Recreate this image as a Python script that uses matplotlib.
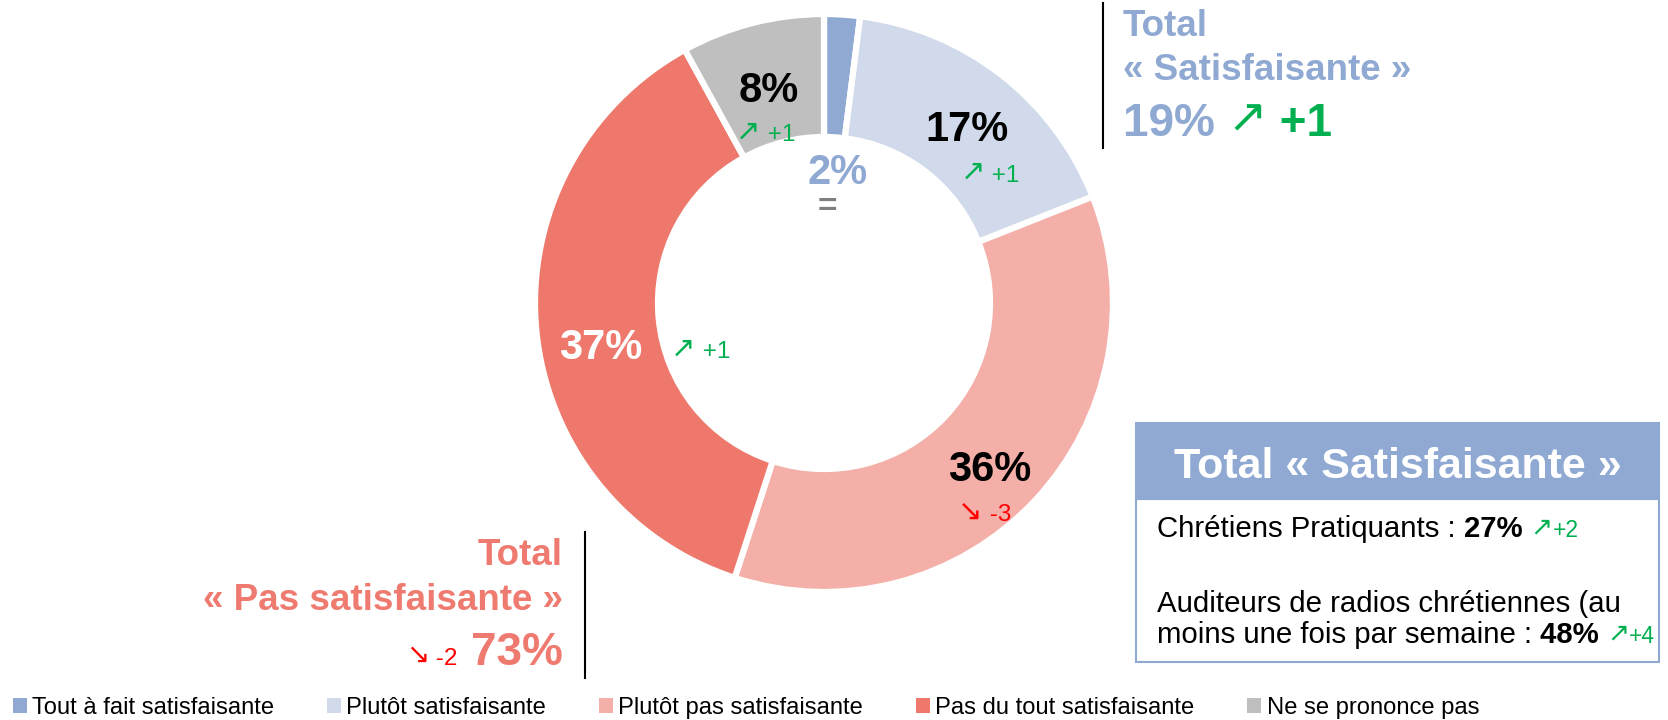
import matplotlib
matplotlib.use("Agg")
import matplotlib.pyplot as plt
from matplotlib.patches import Patch, Rectangle
import numpy as np

plt.rcParams['font.family'] = ['Liberation Sans', 'DejaVu Sans']

# ---------------- data ----------------
categories = ['Tout à fait satisfaisante', 'Plutôt satisfaisante',
              'Plutôt pas satisfaisante', 'Pas du tout satisfaisante',
              'Ne se prononce pas']
values = [2, 17, 36, 37, 8]
changes = ['=', '+1', '-3', '+1', '+1']

total_sat_label = 'Total\n« Satisfaisante »'
total_sat_change = '+1'
total_pas_label = 'Total\n« Pas satisfaisante »'
total_pas_change = '-2'

box_title = 'Total « Satisfaisante »'
box_groups = ['Chrétiens Pratiquants : ',
              'Auditeurs de radios chrétiennes (au\nmoins une fois par semaine : ']
box_values = [27, 48]
box_changes = ['+2', '+4']

# ---------------- style ----------------
colors = ['#8FA9D3', '#D0DAEB', '#F4AFA8', '#EE786B', '#BFBFBF']
label_colors = ['#8FA9D3', 'black', 'black', 'white', 'black']
GREEN = '#00B050'
RED = '#FF0000'
SALMON_TXT = '#EF7B70'
BLUE_TXT = '#8FA9D3'
ARROW_FONT = ['DejaVu Sans']

W, H = 1668, 720
fig = plt.figure(figsize=(W / 100, H / 100), dpi=100)
ax = fig.add_axes([0, 0, 1, 1])


def Y(y):
    return H - y


CX, CY, R, RIN = 824, 303, 289, 166

wedges, _ = ax.pie(values, colors=colors, startangle=90, counterclock=False,
                   center=(CX, Y(CY)), radius=R,
                   wedgeprops=dict(width=R - RIN, edgecolor='white', linewidth=4.5))
ax.set_xlim(0, W)
ax.set_ylim(0, H)
ax.set_aspect('equal')
ax.axis('off')

renderer = fig.canvas.get_renderer()


def chain(x, y, parts, ha='left'):
    """Draw text pieces on one baseline starting at x (px, y from top).
    Each part: (text, kwargs[, dy_px_up])."""
    arts = []
    cur = x
    for p in parts:
        txt, kw = p[0], p[1]
        dy = p[2] if len(p) > 2 else 0
        t = ax.text(cur, Y(y) + dy, txt, ha='left', va='baseline', **kw)
        bb = t.get_window_extent(renderer)
        cur = cur + bb.width
        arts.append(t)
    shift = 0
    if ha == 'right':
        shift = cur - x
    elif ha == 'center':
        shift = (cur - x) / 2
    for t in arts:
        px, py = t.get_position()
        t.set_position((px - shift, py))
    return arts


def arrow_for(ch):
    if ch.startswith('+'):
        return '↗', GREEN
    if ch.startswith('-'):
        return '↘', RED
    return '', '#7F7F7F'


# label radii (fraction of outer radius), shifts and change-label offsets (px)
label_r = [0.465, 0.785, 0.805, 0.79, 0.77]
label_shift = [(5, 4), (4, 6), (-4, 8), (4, 24), (0, 4)]
change_off = [(-10, 35), (23, 44), (-5, 43), (100, 2), (-3, 42)]

for i, w in enumerate(wedges):
    th = np.deg2rad((w.theta1 + w.theta2) / 2)
    px = CX + label_r[i] * R * np.cos(th) + label_shift[i][0]
    py = CY - label_r[i] * R * np.sin(th) + label_shift[i][1]
    ax.text(px, Y(py), f'{values[i]}%', ha='center', va='center',
            fontsize=30, fontweight='bold', color=label_colors[i])
    arr, col = arrow_for(changes[i])
    cx, cy = px + change_off[i][0], py + change_off[i][1]
    if arr:
        chain(cx, cy + 8, [(arr, dict(fontsize=21, color=col, family=ARROW_FONT), 2),
                           (' ' + changes[i], dict(fontsize=17.5, color=col))],
              ha='center')
    else:
        ax.text(cx, Y(cy), changes[i], ha='center', va='center', fontsize=24,
                color=col, fontweight='bold')

# ---------------- top-right total ----------------
total_sat = values[0] + values[1]
ax.plot([1103, 1103], [Y(3), Y(148)], color='black', lw=1.5)
l1, l2 = total_sat_label.split('\n')
ax.text(1123, Y(36), l1, ha='left', va='baseline', fontsize=26.5,
        fontweight='bold', color=BLUE_TXT)
ax.text(1123, Y(80), l2, ha='left', va='baseline', fontsize=26.5,
        fontweight='bold', color=BLUE_TXT)
arr, col = arrow_for(total_sat_change)
chain(1123, 136, [(f'{total_sat}% ', dict(fontsize=33, fontweight='bold', color=BLUE_TXT)),
                  (arr, dict(fontsize=34, color=col, family=ARROW_FONT), 4),
                  (' ' + total_sat_change, dict(fontsize=33, fontweight='bold', color=col))])

# ---------------- bottom-left total ----------------
total_pas = values[2] + values[3]
ax.plot([585, 585], [Y(532), Y(678)], color='black', lw=1.5)
l1, l2 = total_pas_label.split('\n')
ax.text(563, Y(565), l1, ha='right', va='baseline', fontsize=26.5,
        fontweight='bold', color=SALMON_TXT)
ax.text(563, Y(610), l2, ha='right', va='baseline', fontsize=26.5,
        fontweight='bold', color=SALMON_TXT)
arr, col = arrow_for(total_pas_change)
chain(563, 665, [(arr, dict(fontsize=20, color=col, family=ARROW_FONT), 2),
                 (f' {total_pas_change}  ', dict(fontsize=17.5, color=col)),
                 (f'{total_pas}%', dict(fontsize=33, fontweight='bold', color=SALMON_TXT))],
      ha='right')

# ---------------- box ----------------
BX0, BX1, BY0, BY1, BY2 = 1136, 1659, 423, 499, 662
ax.add_patch(Rectangle((BX0, Y(BY2)), BX1 - BX0, BY2 - BY1, facecolor='white',
                       edgecolor=BLUE_TXT, lw=1.5))
ax.add_patch(Rectangle((BX0, Y(BY1)), BX1 - BX0, BY1 - BY0, facecolor=BLUE_TXT,
                       edgecolor=BLUE_TXT, lw=1.5))
ax.text((BX0 + BX1) / 2, Y(478), box_title, ha='center', va='baseline',
        fontsize=31, fontweight='bold', color='white')

base_lines = [[537], [612, 643]]
for g, v, ch, bl in zip(box_groups, box_values, box_changes, base_lines):
    lines = g.split('\n')
    for k, ln in enumerate(lines[:-1]):
        ax.text(1157, Y(bl[k]), ln, ha='left', va='baseline', fontsize=21.2,
                color='black')
    arr, col = arrow_for(ch)
    chain(1157, bl[-1], [(lines[-1], dict(fontsize=21.2, color='black')),
                         (f'{v}% ', dict(fontsize=21.2, fontweight='bold', color='black')),
                         (arr, dict(fontsize=19, color=col, family=ARROW_FONT), 2),
                         (ch, dict(fontsize=16.5, color=col))])

# ---------------- legend ----------------
handles = [Patch(facecolor=c, edgecolor='none', label=l) for c, l in zip(colors, categories)]
fig.legend(handles=handles, loc='center left', bbox_to_anchor=(13 / W, (H - 708) / H),
           ncol=5, frameon=False, fontsize=17.1, handlelength=0.59, handleheight=0.59,
           handletextpad=0.22, columnspacing=2.23, borderpad=0, borderaxespad=0)

fig.savefig('out.png', dpi=100)
